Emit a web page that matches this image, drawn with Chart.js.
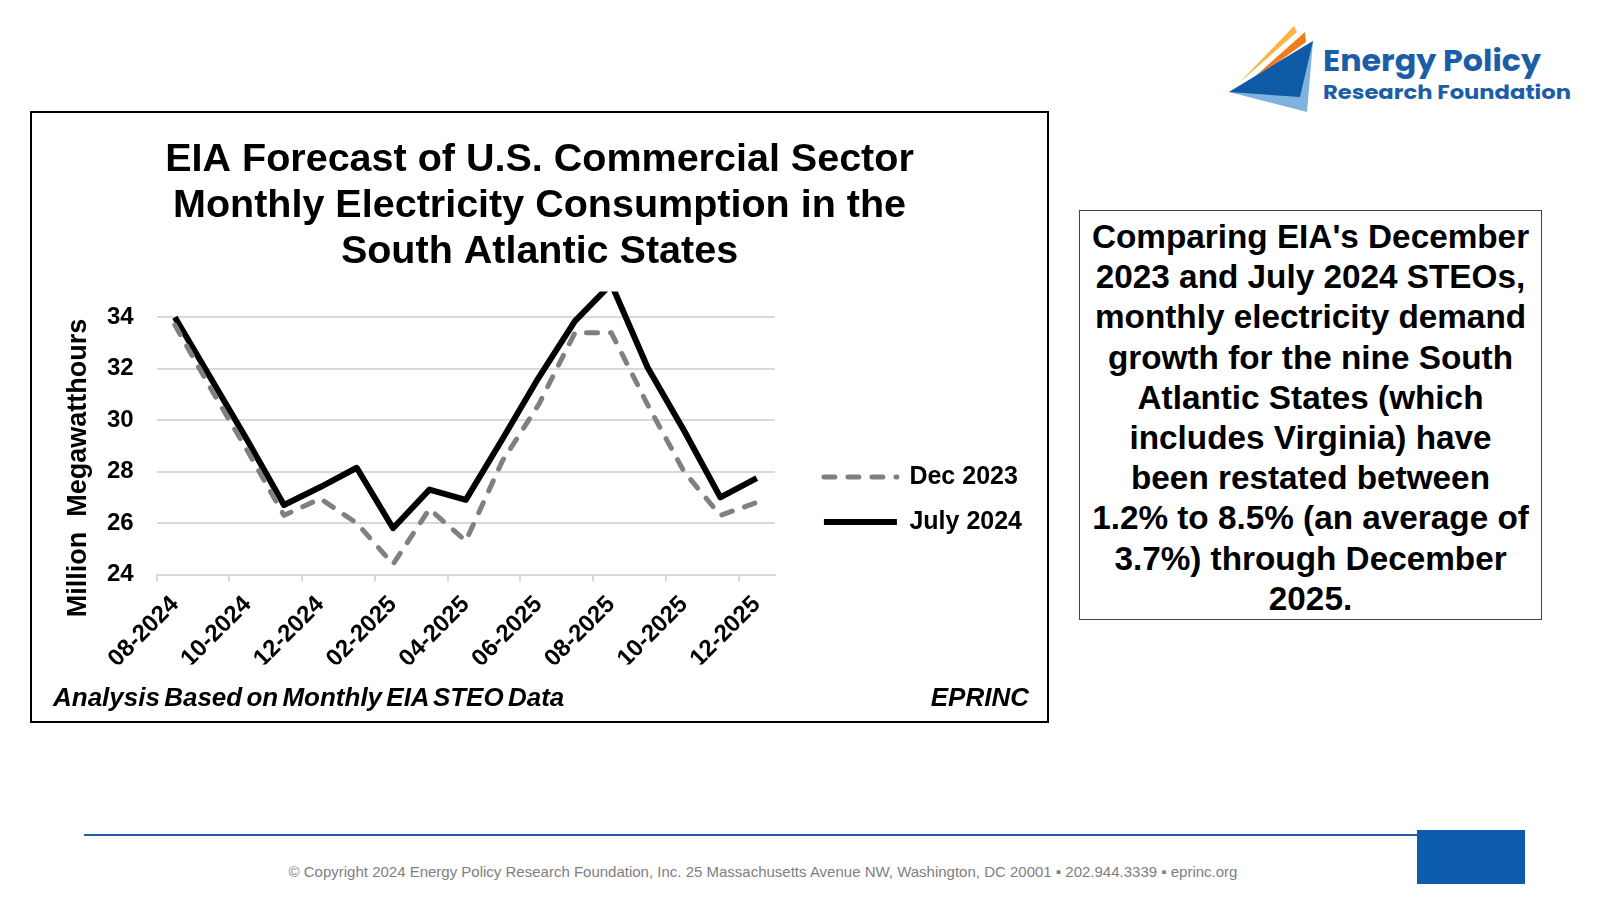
<!DOCTYPE html>
<html>
<head>
<meta charset="utf-8">
<script src="https://cdn.jsdelivr.net/npm/chart.js@4.4.1/dist/chart.umd.min.js"></script>
<style>
  body { margin: 0; width: 1600px; height: 900px; background: #fff; position: relative; overflow: hidden;
         font-family: "Liberation Sans", Arial, sans-serif; }
  #chartBox { position: absolute; left: 30px; top: 111px; width: 1019px; height: 612px;
              border: 2px solid #000; box-sizing: border-box; }
  #stockChart { position: absolute; left: 0; top: 0; }
  .yTitle { position: absolute; left: -155.5px; top: 338.5px; width: 400px; height: 32px; line-height: 32px;
            text-align: center; font-weight: bold; font-size: 27px; transform: rotate(-90deg); white-space: pre; }
  .note { position: absolute; top: 569px; line-height: 30px; font-size: 26px; font-weight: bold; font-style: italic; }
  .note.left { left: 21px; word-spacing: -3px; }
  .note.right { right: 18px; }
  #sideBox { position: absolute; left: 1079px; top: 210px; width: 463px; height: 410px; border: 1px solid #444;
             box-sizing: border-box; text-align: center; font-weight: bold; font-size: 33.3px; line-height: 40.2px;
             padding-top: 6px; }
  #footLine { position: absolute; left: 84px; top: 834px; width: 1334px; height: 2px; background: #1f5fa8; }
  #footBlock { position: absolute; left: 1417px; top: 830px; width: 108px; height: 54px; background: #0d5cad; }
  #copy { position: absolute; left: 0; width: 1526px; top: 863px; text-align: center; font-size: 15px; color: #808080; }
  #logo { position: absolute; left: 1190px; top: 15px; }
</style>
</head>
<body>
<svg id="logo" width="400" height="110" viewBox="1190 15 400 110">
  <polygon points="1239,83 1294,26 1297,32" fill="#f7b548"/>
  <polygon points="1243,87 1305,32 1306,42" fill="#f07c1c"/>
  <polygon points="1229,92 1313,41 1307,112" fill="#80b2de"/>
  <polygon points="1229,92 1313,41 1300,97" fill="#0f5aa5"/>
  <text x="1323" y="71" font-family="Poppins, 'Open Sans', sans-serif" font-weight="bold" font-size="30" fill="#1b5ea8"
        textLength="218" lengthAdjust="spacingAndGlyphs">Energy Policy</text>
  <text x="1323" y="99" font-family="Poppins, 'Open Sans', sans-serif" font-weight="bold" font-size="20" fill="#1b5ea8"
        textLength="248" lengthAdjust="spacingAndGlyphs">Research Foundation</text>
</svg>

<div id="chartBox">
  <canvas id="stockChart" width="1015" height="608"></canvas>
  <div class="yTitle">Million  Megawatthours</div>
  <div class="note left">Analysis Based on Monthly EIA STEO Data</div>
  <div class="note right">EPRINC</div>
</div>

<div id="sideBox">Comparing EIA's December<br>2023 and July 2024 STEOs,<br>monthly electricity demand<br>growth for the nine South<br>Atlantic States (which<br>includes Virginia) have<br>been restated between<br>1.2% to 8.5% (an average of<br>3.7%) through December<br>2025.</div>

<div id="footLine"></div>
<div id="footBlock"></div>
<div id="copy">© Copyright 2024 Energy Policy Research Foundation, Inc. 25 Massachusetts Avenue NW, Washington, DC 20001 ▪ 202.944.3339 ▪ eprinc.org</div>

<script>
const months = ['08-2024', '09-2024', '10-2024', '11-2024', '12-2024', '01-2025', '02-2025', '03-2025', '04-2025',
                '05-2025', '06-2025', '07-2025', '08-2025', '09-2025', '10-2025', '11-2025', '12-2025'];
const dec2023  = [33.7, 31.2, 28.8, 26.3, 26.95, 26.0, 24.4, 26.55, 25.3, 28.4, 30.6, 33.4, 33.4, 30.6, 28.0, 26.3, 26.8];
const july2024 = [34.0, 31.6, 29.2, 26.7, 27.4, 28.15, 25.8, 27.3, 26.9, 29.25, 31.65, 33.85, 35.3, 32.05, 29.6, 27.0, 27.75];
const yTicks = [24, 26, 28, 30, 32, 34];
const titleLines = ['EIA Forecast of U.S. Commercial Sector', 'Monthly Electricity Consumption in the', 'South Atlantic States'];

Chart.defaults.font.family = "'Liberation Sans', Arial, sans-serif";
Chart.defaults.color = '#000';

// excel puts the legend lower and further right than chart.js does
const LEG_DX = 29, LEG_DY = 153;
const nudgeLegend = {
    id: 'nudgeLegend',
    afterLayout(chart) {
        const l = chart.legend;
        l.left += LEG_DX; l.right += LEG_DX;
        l.top += LEG_DY; l.bottom += LEG_DY;
    }
};

// point-style legend items take the point's style, so put the line's dash back
const lineLegendLabels = chart =>
    Chart.defaults.plugins.legend.labels.generateLabels(chart).map(item => {
        const ds = chart.data.datasets[item.datasetIndex];
        return { ...item, lineDash: ds.borderDash || [], lineWidth: ds.borderWidth, lineCap: ds.borderCapStyle || 'butt' };
    });

const data = {
    labels: months,
    datasets: [{
        label: 'Dec 2023',
        data: dec2023,
        borderColor: '#808080',
        backgroundColor: '#808080',
        borderWidth: 5,
        borderDash: [11, 13],
        borderCapStyle: 'round',
        borderJoinStyle: 'round',
        pointRadius: 0,
        tension: 0,
        clip: 0
    }, {
        label: 'July 2024',
        data: july2024,
        borderColor: '#000',
        backgroundColor: '#000',
        borderWidth: 6,
        borderJoinStyle: 'round',
        pointRadius: 0,
        tension: 0,
        clip: 0
    }]
};

const config = {
    type: 'line',
    data: data,
    plugins: [nudgeLegend],
    options: {
        responsive: false,
        animation: false,
        layout: { padding: { left: 44, top: 0, right: 44, bottom: 56.5 } },
        plugins: {
            title: {
                display: true,
                text: titleLines,
                font: { size: 39.5, weight: 'bold', lineHeight: 46 / 39.5 },
                padding: { top: 24, bottom: 16.6 }
            },
            legend: {
                position: 'right',
                align: 'start',
                fullSize: false,
                labels: {
                    usePointStyle: true,
                    pointStyle: 'line',
                    pointStyleWidth: 73,
                    padding: 20,
                    font: { size: 25, weight: 'bold' },
                    generateLabels: lineLegendLabels
                }
            },
            tooltip: { enabled: false }
        },
        scales: {
            x: {
                offset: true,
                afterFit: scale => { scale.height = 90; },
                grid: {
                    offset: true,
                    drawOnChartArea: false,
                    tickLength: 7,
                    lineWidth: 2,
                    color: ctx => (ctx.index % 2 === 0 ? '#d9d9d9' : 'transparent')
                },
                border: { display: true, color: '#d9d9d9', width: 2 },
                ticks: {
                    autoSkip: false,
                    minRotation: 45,
                    maxRotation: 45,
                    padding: 9,
                    font: { size: 24, weight: 'bold' },
                    callback: (v, i) => (i % 2 === 0 ? months[i] : '')
                }
            },
            y: {
                min: 24,
                max: 35,
                afterFit: scale => { scale.width = 80.7; },
                afterBuildTicks: scale => { scale.ticks = yTicks.map(v => ({ value: v })); },
                grid: { color: '#d9d9d9', lineWidth: 2, drawTicks: false },
                border: { display: false },
                ticks: {
                    padding: 23,
                    font: { size: 24, weight: 'bold' }
                }
            }
        }
    }
};

const myChart = new Chart(document.getElementById('stockChart'), config);
</script>
</body>
</html>
